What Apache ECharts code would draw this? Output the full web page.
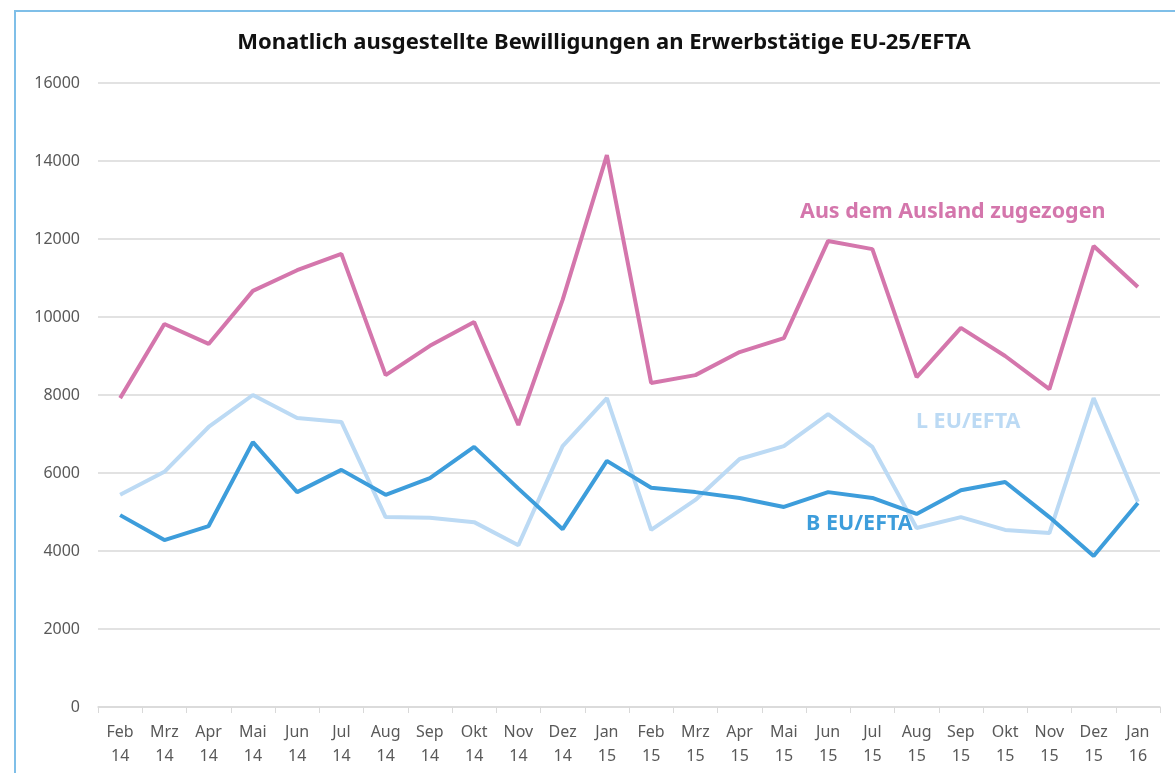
<!DOCTYPE html>
<html>
<head>
<meta charset="utf-8">
<script src="https://cdn.jsdelivr.net/npm/echarts@6/dist/echarts.min.js"></script>
<style>
  html, body { margin: 0; padding: 0; background: #fff; }
  #frame { position: absolute; left: 14px; top: 10px; right: 0; bottom: 0;
           border-left: 2px solid #7fbfe8; border-top: 2px solid #7fbfe8; }
  #chart { position: absolute; left: 0; top: 0; width: 1175px; height: 773px; }
</style>
</head>
<body>
<div id="frame"></div>
<div id="chart"></div>
<script>
// Monate Feb 14 .. Jan 16
const months = [
  "Feb\n14", "Mrz\n14", "Apr\n14", "Mai\n14", "Jun\n14", "Jul\n14",
  "Aug\n14", "Sep\n14", "Okt\n14", "Nov\n14", "Dez\n14", "Jan\n15",
  "Feb\n15", "Mrz\n15", "Apr\n15", "Mai\n15", "Jun\n15", "Jul\n15",
  "Aug\n15", "Sep\n15", "Okt\n15", "Nov\n15", "Dez\n15", "Jan\n16"
];

// Aus dem Ausland zugezogen
const ausland = [
  7920, 9820, 9310, 10670, 11200, 11620, 8510, 9260, 9870, 7230, 10440, 14150,
  8310, 8510, 9100, 9460, 11950, 11740, 8460, 9720, 9000, 8150, 11820, 10770
];

// L EU/EFTA
const lEuEfta = [
  5440, 6030, 7180, 8000, 7410, 7310, 4870, 4850, 4740, 4150, 6690, 7920,
  4540, 5310, 6360, 6690, 7510, 6670, 4590, 4870, 4540, 4460, 7920, 5260
];

// B EU/EFTA
const bEuEfta = [
  4920, 4280, 4640, 6790, 5510, 6080, 5440, 5870, 6670, 5600, 4560, 6310,
  5620, 5510, 5360, 5130, 5510, 5360, 4950, 5560, 5770, 4870, 3870, 5230
];

const pink = "#d476ac";
const blue = "#3d9ddb";
const lightBlue = "#bcdaf4";
const font = "Noto Sans";

const chart = echarts.init(document.getElementById("chart"));

const option = {
  animation: false,
  title: {
    text: "Monatlich ausgestellte Bewilligungen an Erwerbstätige EU-25/EFTA",
    left: 599,
    textAlign: "center",
    top: 27,
    textStyle: { fontFamily: font, fontSize: 22, fontWeight: "bold", color: "#111" }
  },
  grid: { left: 98, right: 15, top: 83, bottom: 66, containLabel: false },
  xAxis: {
    type: "category",
    data: months,
    boundaryGap: true,
    axisLine: { lineStyle: { color: "#d9d9d9", width: 1.5 } },
    axisTick: { show: true, length: 6, lineStyle: { color: "#d9d9d9" } },
    axisLabel: {
      interval: 0,
      margin: 13,
      color: "#595959",
      fontFamily: font,
      fontSize: 16,
      lineHeight: 24
    }
  },
  yAxis: {
    type: "value",
    min: 0,
    max: 16000,
    interval: 2000,
    axisLine: { show: false },
    axisTick: { show: false },
    splitLine: { lineStyle: { color: "#d9d9d9", width: 1.5 } },
    axisLabel: {
      color: "#595959", fontFamily: font, fontSize: 16, margin: 18,
      formatter: (v) => String(v)
    }
  },
  series: [
    {
      name: "L EU/EFTA",
      type: "line",
      data: lEuEfta,
      symbol: "none",
      lineStyle: { color: lightBlue, width: 4 },
      itemStyle: { color: lightBlue }
    },
    {
      name: "B EU/EFTA",
      type: "line",
      data: bEuEfta,
      symbol: "none",
      lineStyle: { color: blue, width: 4 },
      itemStyle: { color: blue }
    },
    {
      name: "Aus dem Ausland zugezogen",
      type: "line",
      data: ausland,
      symbol: "none",
      lineStyle: { color: pink, width: 4 },
      itemStyle: { color: pink }
    }
  ],
  graphic: [
    {
      type: "text", left: 800, top: 201, z: 10,
      style: { text: "Aus dem Ausland zugezogen", fill: pink, font: "bold 21.5px 'Noto Sans'" }
    },
    {
      type: "text", left: 916, top: 411, z: 10,
      style: { text: "L EU/EFTA", fill: lightBlue, font: "bold 21.5px 'Noto Sans'" }
    },
    {
      type: "text", left: 806, top: 513, z: 10,
      style: { text: "B EU/EFTA", fill: blue, font: "bold 21.5px 'Noto Sans'" }
    }
  ]
};

chart.setOption(option);
</script>
</body>
</html>
